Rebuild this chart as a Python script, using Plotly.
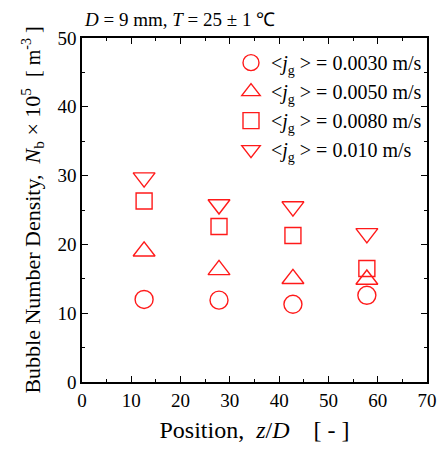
import plotly.graph_objects as go

positions = [12.6, 27.8, 42.8, 57.8]
jg_labels = ["0.0030", "0.0050", "0.0080", "0.010"]
nb_0030 = [12.0, 11.9, 11.3, 12.6]
nb_0050 = [19.0, 16.3, 15.0, 14.9]
nb_0080 = [26.3, 22.6, 21.3, 16.5]
nb_0100 = [29.7, 25.8, 25.5, 21.6]
symbols = ["circle-open", "triangle-up-open", "square-open", "triangle-down-open"]
series = [nb_0030, nb_0050, nb_0080, nb_0100]
sizes = [18, 19, 16, 19]

FONT = "Liberation Serif"
RED = "#ff1a1a"

fig = go.Figure()
for lab, vals, sym, sz in zip(jg_labels, series, symbols, sizes):
    fig.add_trace(go.Scatter(
        x=positions, y=vals, mode="markers",
        name=f"&lt;<i>j</i><sub>g</sub> &gt; = {lab} m/s",
        marker=dict(symbol=sym, size=sz, color=RED, line=dict(width=1.4, color=RED)),
    ))

axis_common = dict(
    showline=True, linecolor="black", linewidth=1.5, mirror="ticks",
    ticks="inside", ticklen=6, tickwidth=1.2, tickcolor="black",
    showgrid=False, zeroline=False, automargin=False,
    tickfont=dict(family=FONT, size=19, color="black"),
    minor=dict(ticks="inside", ticklen=3, tickwidth=1.2, tickcolor="black", dtick=5),
)

fig.update_xaxes(range=[0, 70], dtick=10, **axis_common,
                 title=dict(text="Position,  <i>z</i>/<i>D</i>    [ - ]",
                            font=dict(family=FONT, size=24, color="black"), standoff=12))
fig.update_yaxes(range=[0, 50], dtick=10, **axis_common,
                 title=dict(text="Bubble Number Density,  <i>N</i><sub>b</sub> × 10<sup>5</sup>  "
                                 "<span style='font-size:20px'>[ m<sup>-3</sup> ]</span>",
                            font=dict(family=FONT, size=22, color="black"), standoff=11))

fig.add_annotation(text="<i>D</i> = 9 mm, <i>T</i> = 25 ± 1 ℃", xref="paper", yref="paper",
                   x=0.0, y=1.0, xanchor="left", yanchor="bottom", yshift=6, showarrow=False,
                   font=dict(family=FONT, size=19, color="black"))

fig.update_layout(
    width=439, height=452,
    margin=dict(l=82, r=12, t=38, b=70, autoexpand=False),
    paper_bgcolor="white", plot_bgcolor="white",
    font=dict(family=FONT, color="black"),
    legend=dict(x=1.0, y=0.985, xanchor="right", yanchor="top",
                font=dict(family=FONT, size=20, color="black"),
                bgcolor="rgba(0,0,0,0)", tracegroupgap=0, itemsizing="trace"),
    showlegend=True,
)

fig.write_html("out.html", config={"displayModeBar": False},
               post_script="document.body.style.margin='0';document.body.style.overflow='hidden';")
